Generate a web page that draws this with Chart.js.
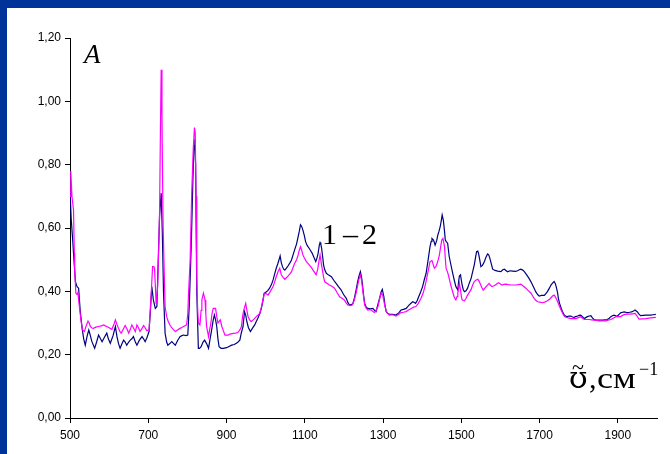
<!DOCTYPE html>
<html>
<head>
<meta charset="utf-8">
<script src="https://cdn.jsdelivr.net/npm/chart.js@4"></script>
<style>
  html, body { margin: 0; padding: 0; background: #003399; width: 670px; height: 454px; overflow: hidden; }
  #frame { position: absolute; left: 7px; top: 8px; width: 663px; height: 446px; background: #fff; }
</style>
</head>
<body>
<div id="frame"><canvas id="spectrum" width="663" height="446"></canvas></div>
<script>
// ======= Data =======
const xTicks = [500, 700, 900, 1100, 1300, 1500, 1700, 1900];
const yTicks = [0, 0.2, 0.4, 0.6, 0.8, 1.0, 1.2];

// curve 1 (navy)
const blueWave = [500,503,507,510,514,518,522,526,531,535,539,544,548,552,556,563,568,573,578,582,588,594,598,603,610,616,620,624,628,633,637,641,645,650,654,658,662,667,671,677,684,688,692,697,702,706,709,713,718,722,726,729,733,736,739,743,747,750,755,760,765,769,775,781,786,790,796,801,805,810,814,817,819,821,824,828,831,835,840,844,849,854,858,862,866,869,872,875,878,881,886,892,900,905,913,920,928,934,938,942,946,949,952,956,961,966,972,976,980,985,989,993,996,1002,1006,1010,1015,1019,1023,1027,1031,1034,1037,1040,1043,1046,1049,1053,1057,1062,1066,1070,1074,1079,1083,1086,1089,1092,1095,1099,1102,1106,1111,1115,1119,1124,1128,1131,1134,1137,1139,1141,1143,1146,1148,1151,1155,1160,1168,1174,1180,1186,1193,1199,1206,1210,1214,1219,1223,1227,1231,1235,1238,1242,1245,1247,1250,1253,1257,1261,1267,1274,1278,1282,1286,1291,1295,1298,1302,1305,1308,1312,1316,1325,1333,1340,1346,1352,1359,1363,1367,1372,1376,1380,1383,1387,1391,1396,1401,1405,1410,1414,1417,1420,1423,1425,1429,1433,1437,1440,1443,1446,1449,1451,1454,1457,1459,1462,1465,1469,1474,1478,1482,1486,1491,1493,1495,1498,1500,1502,1505,1508,1512,1516,1520,1525,1529,1533,1536,1539,1542,1544,1547,1550,1554,1559,1563,1567,1570,1573,1577,1580,1586,1593,1597,1601,1606,1610,1614,1618,1624,1631,1638,1644,1648,1652,1657,1661,1667,1673,1678,1682,1686,1690,1695,1699,1705,1712,1716,1720,1725,1729,1733,1737,1740,1743,1746,1748,1751,1754,1758,1763,1767,1771,1775,1780,1784,1788,1792,1797,1801,1805,1810,1814,1818,1822,1827,1831,1835,1839,1843,1848,1855,1861,1867,1873,1878,1882,1886,1890,1895,1899,1903,1907,1912,1916,1920,1924,1930,1935,1940,1944,1947,1950,1954,1958,1965,1971,1978,1984,1990,1997];
const blueAbs = [0.72,0.63,0.56,0.50,0.43,0.415,0.41,0.34,0.283,0.25,0.23,0.26,0.278,0.26,0.241,0.22,0.24,0.262,0.25,0.241,0.255,0.268,0.25,0.236,0.26,0.289,0.257,0.235,0.22,0.235,0.246,0.24,0.23,0.24,0.246,0.25,0.257,0.24,0.23,0.245,0.257,0.25,0.241,0.255,0.273,0.35,0.415,0.373,0.346,0.352,0.52,0.64,0.71,0.58,0.394,0.268,0.24,0.23,0.235,0.241,0.235,0.23,0.245,0.257,0.26,0.262,0.26,0.262,0.362,0.552,0.75,0.86,0.88,0.80,0.394,0.22,0.22,0.225,0.24,0.246,0.235,0.22,0.25,0.278,0.31,0.325,0.31,0.289,0.25,0.225,0.22,0.22,0.222,0.225,0.23,0.232,0.238,0.246,0.27,0.288,0.336,0.325,0.304,0.285,0.273,0.283,0.294,0.305,0.315,0.33,0.346,0.37,0.394,0.399,0.403,0.41,0.422,0.436,0.455,0.473,0.487,0.499,0.512,0.49,0.478,0.47,0.467,0.473,0.48,0.49,0.499,0.515,0.531,0.55,0.573,0.59,0.61,0.605,0.594,0.575,0.557,0.545,0.536,0.528,0.52,0.505,0.494,0.505,0.52,0.545,0.554,0.548,0.536,0.505,0.483,0.468,0.457,0.452,0.446,0.435,0.425,0.415,0.404,0.39,0.378,0.365,0.357,0.358,0.362,0.38,0.404,0.43,0.446,0.462,0.445,0.425,0.39,0.362,0.35,0.346,0.345,0.346,0.34,0.336,0.355,0.378,0.398,0.406,0.383,0.355,0.336,0.33,0.328,0.327,0.325,0.332,0.341,0.343,0.346,0.352,0.357,0.363,0.367,0.365,0.362,0.37,0.383,0.398,0.415,0.435,0.457,0.49,0.515,0.541,0.558,0.567,0.562,0.546,0.56,0.578,0.59,0.604,0.625,0.641,0.625,0.59,0.562,0.556,0.552,0.51,0.48,0.457,0.435,0.415,0.404,0.43,0.448,0.452,0.435,0.42,0.405,0.399,0.402,0.41,0.425,0.441,0.462,0.483,0.505,0.525,0.527,0.52,0.5,0.478,0.482,0.494,0.508,0.518,0.515,0.504,0.485,0.47,0.466,0.464,0.463,0.462,0.468,0.47,0.466,0.462,0.465,0.464,0.463,0.465,0.468,0.47,0.467,0.462,0.452,0.441,0.43,0.42,0.41,0.399,0.39,0.385,0.387,0.387,0.393,0.399,0.41,0.42,0.426,0.431,0.425,0.412,0.395,0.378,0.362,0.351,0.337,0.325,0.321,0.32,0.322,0.322,0.319,0.318,0.32,0.322,0.324,0.325,0.319,0.314,0.317,0.32,0.322,0.323,0.316,0.311,0.31,0.309,0.309,0.309,0.31,0.311,0.315,0.32,0.323,0.325,0.323,0.322,0.327,0.332,0.334,0.335,0.334,0.333,0.334,0.335,0.338,0.341,0.338,0.335,0.328,0.323,0.324,0.325,0.325,0.325,0.326,0.327];

// curve 2 (magenta)
const pinkWave = [500,502,505,509,511,512,515,518,520,522,526,529,532,537,541,546,549,552,556,560,566,573,580,586,590,594,600,607,612,616,620,624,628,631,636,641,646,650,654,658,662,667,671,675,679,684,688,692,696,702,705,708,711,714,716,718,720,722,724,727,729,731,733,735,737,738,741,743,747,751,756,762,769,775,781,786,790,795,798,801,803,807,811,815,818,820,822,824,826,828,832,835,837,841,845,847,849,854,857,860,863,866,872,875,878,881,884,888,892,896,904,909,917,923,929,934,938,941,944,949,952,955,959,963,970,976,985,989,993,997,1002,1006,1012,1019,1023,1027,1031,1036,1038,1040,1045,1049,1053,1057,1062,1066,1070,1074,1079,1083,1086,1089,1092,1095,1099,1104,1108,1112,1117,1121,1125,1129,1133,1136,1139,1142,1145,1148,1151,1157,1163,1170,1176,1182,1189,1195,1201,1206,1210,1216,1221,1226,1231,1235,1238,1242,1245,1247,1250,1253,1257,1261,1266,1270,1274,1278,1282,1287,1291,1295,1299,1302,1304,1308,1312,1316,1325,1333,1340,1346,1352,1359,1365,1372,1378,1384,1390,1397,1402,1406,1410,1414,1417,1420,1425,1428,1431,1435,1438,1441,1444,1447,1450,1453,1455,1457,1459,1461,1465,1468,1471,1474,1478,1482,1486,1489,1491,1493,1495,1498,1500,1502,1505,1508,1512,1516,1520,1525,1529,1533,1538,1542,1545,1548,1552,1556,1560,1565,1571,1574,1578,1582,1587,1591,1595,1600,1604,1609,1614,1620,1627,1633,1639,1645,1652,1658,1665,1671,1678,1682,1686,1690,1695,1701,1707,1713,1720,1726,1733,1737,1739,1743,1746,1750,1755,1759,1763,1767,1773,1780,1787,1793,1799,1805,1810,1814,1820,1827,1833,1839,1846,1852,1860,1869,1875,1882,1888,1895,1901,1907,1912,1918,1924,1930,1937,1944,1949,1954,1962,1971,1984,1997];
const pinkAbs = [0.70,0.78,0.70,0.657,0.52,0.467,0.394,0.39,0.399,0.373,0.33,0.30,0.278,0.273,0.29,0.306,0.30,0.289,0.284,0.283,0.287,0.289,0.291,0.294,0.291,0.289,0.285,0.28,0.295,0.31,0.295,0.283,0.272,0.268,0.28,0.292,0.28,0.268,0.28,0.294,0.285,0.273,0.294,0.285,0.273,0.283,0.292,0.285,0.276,0.278,0.34,0.404,0.478,0.478,0.473,0.42,0.362,0.38,0.415,0.55,0.657,0.90,1.10,0.95,0.70,0.604,0.45,0.352,0.32,0.305,0.292,0.282,0.273,0.278,0.283,0.286,0.289,0.292,0.294,0.33,0.394,0.499,0.71,0.85,0.917,0.90,0.70,0.446,0.35,0.30,0.294,0.34,0.373,0.394,0.373,0.33,0.289,0.257,0.28,0.30,0.33,0.346,0.346,0.32,0.30,0.305,0.31,0.289,0.275,0.262,0.262,0.265,0.267,0.268,0.27,0.278,0.288,0.32,0.341,0.362,0.34,0.32,0.31,0.304,0.312,0.32,0.33,0.35,0.373,0.394,0.392,0.388,0.40,0.415,0.43,0.446,0.46,0.473,0.462,0.452,0.443,0.438,0.443,0.448,0.455,0.462,0.475,0.488,0.50,0.515,0.53,0.541,0.53,0.515,0.505,0.494,0.488,0.483,0.475,0.467,0.46,0.452,0.47,0.494,0.515,0.49,0.467,0.445,0.43,0.425,0.42,0.415,0.41,0.397,0.383,0.378,0.373,0.363,0.357,0.355,0.357,0.37,0.394,0.418,0.436,0.452,0.435,0.415,0.385,0.357,0.347,0.341,0.342,0.341,0.336,0.333,0.34,0.352,0.375,0.394,0.388,0.37,0.357,0.338,0.33,0.325,0.326,0.322,0.328,0.333,0.334,0.336,0.341,0.346,0.35,0.352,0.362,0.378,0.393,0.41,0.432,0.457,0.475,0.494,0.497,0.485,0.473,0.478,0.488,0.50,0.515,0.54,0.562,0.567,0.555,0.541,0.505,0.473,0.46,0.446,0.43,0.415,0.398,0.381,0.373,0.383,0.394,0.41,0.425,0.404,0.385,0.373,0.371,0.37,0.378,0.388,0.396,0.406,0.42,0.431,0.436,0.438,0.433,0.425,0.413,0.404,0.41,0.417,0.425,0.42,0.415,0.417,0.42,0.424,0.427,0.423,0.42,0.422,0.423,0.421,0.42,0.42,0.42,0.421,0.423,0.417,0.41,0.402,0.394,0.386,0.378,0.372,0.367,0.366,0.364,0.366,0.37,0.376,0.385,0.388,0.385,0.376,0.367,0.355,0.34,0.33,0.322,0.318,0.316,0.314,0.314,0.314,0.317,0.32,0.315,0.311,0.311,0.311,0.31,0.309,0.308,0.307,0.307,0.307,0.309,0.311,0.315,0.32,0.32,0.32,0.324,0.327,0.328,0.328,0.329,0.33,0.322,0.312,0.313,0.314,0.316,0.318];

const toPoints = (xs, ys) => xs.map((x, i) => ({ x: x, y: ys[i] }));

// ======= Text labels on the plot =======
const plotLabels = {
  id: "plotLabels",
  afterDraw(chart) {
    const ctx = chart.ctx;
    const a = chart.chartArea;
    ctx.save();
    ctx.fillStyle = "#000";
    ctx.textBaseline = "alphabetic";
    ctx.textAlign = "left";

    // axis name "A"
    ctx.font = 'italic 27px "Liberation Serif", serif';
    ctx.fillText("A", a.left + 14, a.top + 25);

    // curve numbers
    ctx.font = '30px "Liberation Serif", serif';
    ctx.fillText("1", 315, 236);
    ctx.fillText("\u2013", 336, 236);
    ctx.fillText("2", 355, 236);

    // wavenumber label
    ctx.font = '30px "DejaVu Serif", serif';
    ctx.fillText("\u028A", 562, 380);
    ctx.font = '22px "Liberation Serif", serif';
    ctx.fillText("~", 565, 366);
    ctx.font = '30px "Liberation Serif", serif';
    ctx.fillText(",", 582, 380);
    ctx.save();
    ctx.translate(590, 380);
    ctx.scale(1.2, 1);
    ctx.fillText("\u0441\u043C", 0, 0);
    ctx.restore();
    ctx.font = '18px "Liberation Serif", serif';
    ctx.fillText("\u22121", 632, 367);
    ctx.restore();
  }
};

const spectrumChart = new Chart(document.getElementById("spectrum"), {
  type: "line",
  data: {
    datasets: [
      {
        label: "2",
        data: toPoints(pinkWave, pinkAbs),
        borderColor: "#ff00ff",
        borderWidth: 1.2,
        pointRadius: 0,
        tension: 0,
        fill: false
      },
      {
        label: "1",
        data: toPoints(blueWave, blueAbs),
        borderColor: "#000080",
        borderWidth: 1.2,
        pointRadius: 0,
        tension: 0,
        fill: false
      }
    ]
  },
  options: {
    responsive: false,
    animation: false,
    devicePixelRatio: 1,
    layout: { padding: { top: 30, right: 13, left: 0, bottom: 0 } },
    plugins: {
      legend: { display: false },
      tooltip: { enabled: false }
    },
    scales: {
      x: {
        type: "linear",
        min: 500,
        max: 2000,
        afterBuildTicks: (s) => { s.ticks = xTicks.map((v) => ({ value: v })); },
        afterFit: (s) => { s.height = 36; },
        ticks: {
          color: "#000",
          font: { family: '"Liberation Sans", Arial, sans-serif', size: 12 },
          padding: 5,
          maxRotation: 0,
          autoSkip: false,
          callback: (v) => String(v)
        },
        grid: { display: true, drawOnChartArea: false, drawTicks: true, tickLength: 5, color: "#000" },
        border: { display: true, color: "#000", width: 1 }
      },
      y: {
        min: 0,
        max: 1.2,
        afterBuildTicks: (s) => { s.ticks = yTicks.map((v) => ({ value: v })); },
        afterFit: (s) => { s.width = 63; },
        ticks: {
          color: "#000",
          font: { family: '"Liberation Sans", Arial, sans-serif', size: 12 },
          padding: 4,
          callback: (v) => v.toFixed(2).replace(".", ",")
        },
        grid: { display: true, drawOnChartArea: false, drawTicks: true, tickLength: 5, color: "#000" },
        border: { display: true, color: "#000", width: 1 }
      }
    }
  },
  plugins: [plotLabels]
});
</script>
</body>
</html>
